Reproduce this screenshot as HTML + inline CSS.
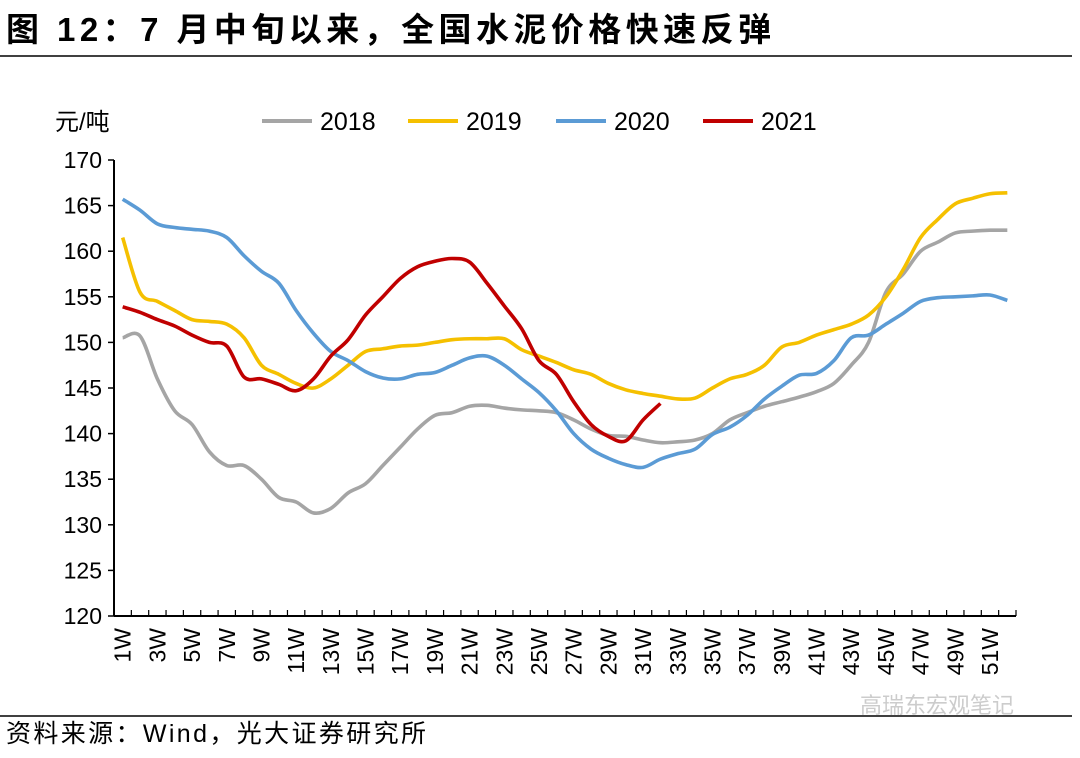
<!DOCTYPE html>
<html><head><meta charset="utf-8"><style>
body{margin:0;background:#fff;width:1080px;height:753px;overflow:hidden;font-family:"Liberation Sans","Noto Sans CJK SC",sans-serif;}
</style></head><body>
<svg id="chart" width="1080" height="753" xmlns="http://www.w3.org/2000/svg" font-family="Liberation Sans, Noto Sans CJK SC, sans-serif">
<text x="6" y="41" font-size="33" font-weight="bold" fill="#000" textLength="765" lengthAdjust="spacing">图 12：7 月中旬以来，全国水泥价格快速反弹</text>
<line x1="0" y1="56" x2="1072" y2="56" stroke="#000" stroke-width="1.5"/>
<line x1="0" y1="716" x2="1072" y2="716" stroke="#000" stroke-width="1.5"/>
<text x="6" y="742" font-size="25" fill="#000" textLength="420" lengthAdjust="spacing">资料来源：Wind，光大证券研究所</text>
<text x="860" y="713" font-size="22" fill="#ccc">高瑞东宏观笔记</text>
<text x="55" y="130" font-size="24" fill="#000">元/吨</text>
<g id="axes"></g><g id="series"></g><g id="legend"></g>
</svg>
<script>
const categories=[];for(let i=1;i<=52;i++)categories.push(i+'W');
const yTicks=[120,125,130,135,140,145,150,155,160,165,170];
const seriesNames=['2018','2019','2020','2021'];
const seriesColors=['#a5a5a5','#f5c000','#5b9bd5','#c00000'];
const s2018=[150.5,150.7,146,142.5,141,138,136.5,136.5,135,133,132.5,131.3,131.8,133.5,134.5,136.5,138.5,140.5,142,142.3,143,143.1,142.8,142.6,142.5,142.3,141.5,140.5,139.8,139.7,139.3,139,139.1,139.3,140,141.5,142.3,143,143.5,144,144.6,145.5,147.5,150,155.5,157.5,160,161,162,162.2,162.3,162.3];
const s2019=[161.5,155.5,154.5,153.5,152.5,152.3,152,150.5,147.5,146.5,145.5,145,146,147.5,149,149.3,149.6,149.7,150,150.3,150.4,150.4,150.4,149.2,148.5,147.8,147,146.5,145.5,144.8,144.4,144.1,143.8,143.9,145,146,146.5,147.5,149.5,150,150.8,151.4,152,153,155,158,161.5,163.5,165.2,165.8,166.3,166.4];
const s2020=[165.7,164.5,163,162.6,162.4,162.2,161.5,159.5,157.8,156.5,153.5,151,149,148,146.8,146.1,146,146.5,146.7,147.5,148.3,148.5,147.5,146,144.5,142.5,140,138.3,137.3,136.6,136.3,137.2,137.8,138.3,139.9,140.7,142,143.8,145.2,146.4,146.6,148,150.5,150.8,152,153.2,154.5,154.9,155,155.1,155.2,154.6];
const s2021=[153.9,153.3,152.5,151.8,150.8,150,149.6,146.2,146,145.4,144.7,146,148.5,150.3,153,155,157,158.3,158.9,159.2,158.8,156.5,154,151.5,148,146.5,143.5,141,139.7,139.2,141.5,143.3];
const allSeries=[s2018,s2019,s2020,s2021];
const NS='http://www.w3.org/2000/svg';
const X0=114,X1=1016,Y0=616,Y1=160,YMIN=120,YMAX=170;
const step=(X1-X0)/categories.length;
const xs=i=>X0+(i+0.5)*step;
const ys=v=>Y0-(v-YMIN)/(YMAX-YMIN)*(Y0-Y1);
function mk(t,a,p){const e=document.createElementNS(NS,t);for(const k in a)e.setAttribute(k,a[k]);p.appendChild(e);return e;}
const axes=document.getElementById('axes');
let ya=mk('line',{x1:X0,y1:Y1,x2:X0,y2:Y0,stroke:'#000','stroke-width':2},axes);


let xa=mk('line',{x1:X0,y1:Y0,x2:X1,y2:Y0,stroke:'#000','stroke-width':2},axes);


yTicks.forEach(v=>{
 const y=ys(v);
 let tk=mk('line',{x1:X0-6,y1:y,x2:X0,y2:y,stroke:'#000','stroke-width':1.5},axes);
 
 
 let t=mk('text',{x:X0-12,y:y+8,'text-anchor':'end','font-size':23,fill:'#000'},axes);
 t.textContent=v;
 
 
});
for(let i=0;i<=categories.length;i++){
 const x=X0+i*step;
 let tk=mk('line',{x1:x,y1:Y0,x2:x,y2:Y0-6,stroke:'#000','stroke-width':1.2},axes);
 
 
}
categories.forEach((c,i)=>{
 if(i%2)return;
 const x=xs(i)+8;
 let t=mk('text',{x:x,y:628,'text-anchor':'end','font-size':23,fill:'#000',transform:`rotate(-90 ${x} 628)`},axes);
 t.textContent=c;
 
 
});
function pathFor(d){
 const p=d.map((v,i)=>[xs(i),ys(v)]);
 let s=`M${p[0][0]},${p[0][1]}`;
 for(let i=0;i<p.length-1;i++){
  const p0=p[i-1]||p[i],p1=p[i],p2=p[i+1],p3=p[i+2]||p2;
  const c1=[p1[0]+(p2[0]-p0[0])/6,p1[1]+(p2[1]-p0[1])/6];
  const c2=[p2[0]-(p3[0]-p1[0])/6,p2[1]-(p3[1]-p1[1])/6];
  s+=` C${c1[0]},${c1[1]} ${c2[0]},${c2[1]} ${p2[0]},${p2[1]}`;
 }
 return s;
}
const sg=document.getElementById('series');
allSeries.forEach((d,k)=>{
 let p=mk('path',{d:pathFor(d),fill:'none',stroke:seriesColors[k],'stroke-width':3.6,'stroke-linejoin':'round'},sg);
 
 
});
const lg=document.getElementById('legend');
const lx=[262,408,556,703];
seriesNames.forEach((n,k)=>{
 let l=mk('line',{x1:lx[k],y1:121,x2:lx[k]+50,y2:121,stroke:seriesColors[k],'stroke-width':4},lg);
 
 
 let t=mk('text',{x:lx[k]+58,y:130,'font-size':25,fill:'#000'},lg);
 t.textContent=n;
 
 
});
</script>
</body></html>
